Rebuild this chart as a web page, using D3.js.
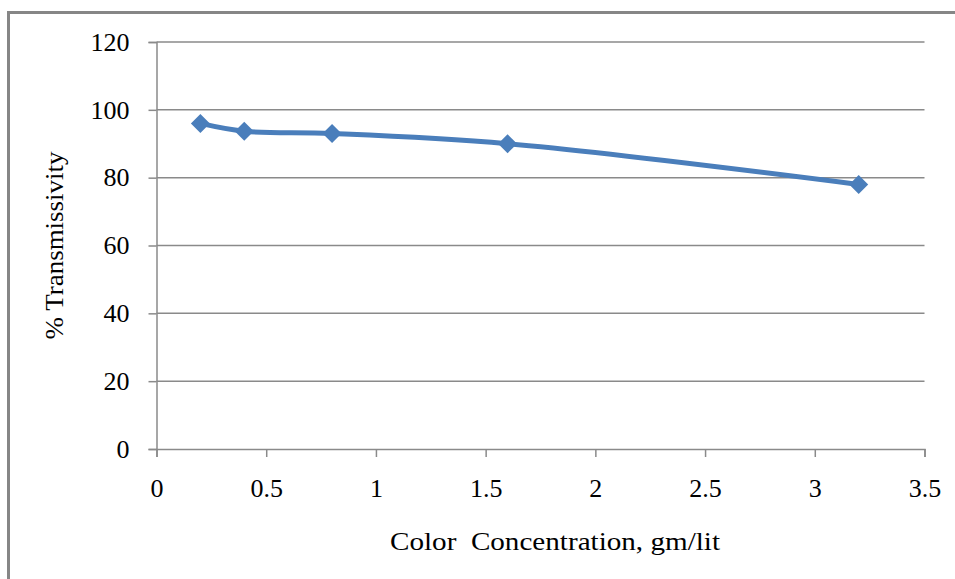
<!DOCTYPE html>
<html>
<head>
<meta charset="utf-8">
<script src="https://cdn.jsdelivr.net/npm/d3@7"></script>
<style>
  html, body { margin: 0; padding: 0; background: #fff; }
  svg { display: block; }
  text { font-family: "Liberation Serif", "Times New Roman", serif; fill: #000; }
</style>
</head>
<body>
<svg id="chart" width="955" height="579"></svg>
<script>
// Colour concentration (gm/lit) against percent transmissivity
const concentration = [0.2, 0.4, 0.8, 1.6, 3.2];
const transmissivity = [96, 93.7, 93, 90, 78];
const xTicks = [0, 0.5, 1, 1.5, 2, 2.5, 3, 3.5];
const yTicks = [0, 20, 40, 60, 80, 100, 120];
const xTitle = "Color  Concentration, gm/lit";
const yTitle = "% Transmissivity";

const svg = d3.select("#chart");
const W = 955, H = 579;
const plot = { left: 156.5, right: 924.5, top: 42, bottom: 449 };
const labelFont = "26px";

// chart frame (runs off the right and bottom edges)
svg.append("rect")
  .attr("x", 8.5).attr("y", 12.5)
  .attr("width", W + 20).attr("height", H + 20)
  .attr("fill", "#fff")
  .attr("stroke", "#868686")
  .attr("stroke-width", 3);

const x = d3.scaleLinear().domain([0, 3.5]).range([plot.left, plot.right]);
const y = d3.scaleLinear().domain([0, 120]).range([plot.bottom, plot.top]);

// horizontal gridlines
svg.append("g")
  .selectAll("line")
  .data(yTicks.filter(d => d > 0))
  .join("line")
  .attr("x1", plot.left).attr("x2", plot.right)
  .attr("y1", d => y(d)).attr("y2", d => y(d))
  .attr("stroke", "#8a8a8a")
  .attr("stroke-width", 1.5);

// y axis
const yAxis = svg.append("g")
  .attr("transform", `translate(${plot.left},0)`)
  .call(d3.axisLeft(y).tickValues(yTicks).tickSize(8).tickPadding(19).tickFormat(d3.format("d")));
yAxis.select(".domain").attr("stroke", "#8a8a8a").attr("stroke-width", 1.5);
yAxis.selectAll(".tick line").attr("stroke", "#8a8a8a").attr("stroke-width", 1.5);
yAxis.selectAll(".tick text")
  .style("font-family", '"Liberation Serif", "Times New Roman", serif')
  .style("font-size", labelFont).attr("fill", "#000");

// x axis
const xAxis = svg.append("g")
  .attr("transform", `translate(0,${plot.bottom})`)
  .call(d3.axisBottom(x).tickValues(xTicks).tickSize(8).tickPadding(22).tickFormat(d => String(d)));
xAxis.select(".domain").attr("stroke", "#8a8a8a").attr("stroke-width", 1.5);
xAxis.selectAll(".tick line").attr("stroke", "#8a8a8a").attr("stroke-width", 1.5);
xAxis.selectAll(".tick text")
  .style("font-family", '"Liberation Serif", "Times New Roman", serif')
  .style("font-size", labelFont).attr("fill", "#000");

// axis titles
svg.append("text")
  .attr("x", 555).attr("y", 550)
  .attr("text-anchor", "middle")
  .attr("xml:space", "preserve")
  .style("white-space", "pre")
  .style("font-size", labelFont)
  .attr("textLength", 330)
  .attr("lengthAdjust", "spacingAndGlyphs")
  .text(xTitle);

svg.append("text")
  .attr("transform", `translate(63,${(plot.top + plot.bottom) / 2}) rotate(-90)`)
  .attr("text-anchor", "middle")
  .style("font-size", labelFont)
  .attr("textLength", 188)
  .attr("lengthAdjust", "spacingAndGlyphs")
  .text(yTitle);

// smoothed data line
const pts = concentration.map((c, i) => [c, transmissivity[i]]);
const line = d3.line()
  .x(d => x(d[0])).y(d => y(d[1]))
  .curve(d3.curveCatmullRom.alpha(0.5));

svg.append("path")
  .datum(pts)
  .attr("d", line)
  .attr("fill", "none")
  .attr("stroke", "#4a7ebb")
  .attr("stroke-width", 5)
  .attr("stroke-linejoin", "round");

// diamond markers
const r = 9.5;
svg.append("g")
  .selectAll("path")
  .data(pts)
  .join("path")
  .attr("d", d => {
    const cx = x(d[0]), cy = y(d[1]);
    return `M${cx},${cy - r}L${cx + r},${cy}L${cx},${cy + r}L${cx - r},${cy}Z`;
  })
  .attr("fill", "#4a7ebb");
</script>
</body>
</html>
